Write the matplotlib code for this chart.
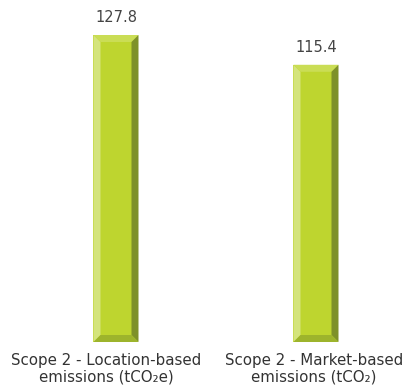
import matplotlib

matplotlib.use("Agg")
import matplotlib.pyplot as plt
from matplotlib.patches import Polygon

categories = ["Scope 2 - Location-based\nemissions (tCO\u2082e)",
              "Scope 2 - Market-based\nemissions (tCO\u2082)"]
values = [127.8, 115.4]
value_labels = ["127.8", "115.4"]

FACE = "#bed52f"
LEFT = "#d4e47c"
TOP = "#cadd55"
RIGHT = "#7e9129"
BOTTOM = "#9db42c"

W, H = 407, 391
fig = plt.figure(figsize=(W / 100, H / 100), dpi=100)
ax = fig.add_axes([0, 49 / H, 1, 307 / H])
ax.set_xlim(-116 / 200, (W - 116) / 200)
ax.set_ylim(0, max(values))
ax.axis("off")

width = 0.225
x = list(range(len(values)))
bars = ax.bar(x, values, width=width, color=FACE, linewidth=0, zorder=1)

# bevel size in data units (about 7 px)
bx = 7 / 200
by = 7 / (307 / max(values))

for bar in bars:
    x0, y0 = bar.get_x(), bar.get_y()
    x1, y1 = x0 + bar.get_width(), y0 + bar.get_height()
    faces = [
        ([(x0, y0), (x0 + bx, y0 + by), (x0 + bx, y1 - by), (x0, y1)], LEFT),
        ([(x0, y1), (x0 + bx, y1 - by), (x1 - bx, y1 - by), (x1, y1)], TOP),
        ([(x1, y1), (x1 - bx, y1 - by), (x1 - bx, y0 + by), (x1, y0)], RIGHT),
        ([(x0, y0), (x0 + bx, y0 + by), (x1 - bx, y0 + by), (x1, y0)], BOTTOM),
    ]
    for pts, c in faces:
        ax.add_patch(Polygon(pts, closed=True, facecolor=c, edgecolor="none", zorder=2))

for xi, v, lab in zip(x, values, value_labels):
    ax.annotate(lab, (xi, v), xytext=(0, 7), textcoords="offset points",
                ha="center", va="bottom", fontsize=10.5, color="#444444",
                annotation_clip=False)

# category labels sit a little left of the bar centres in the original
label_shift = [-7, -1.5]
for xi, cat, dx in zip(x, categories, label_shift):
    ax.annotate(cat, (xi, 0), xytext=(dx, -8), textcoords="offset points",
                ha="center", va="top", fontsize=10.8, color="#333333",
                linespacing=1.1, annotation_clip=False)

fig.savefig("out.png", dpi=100)
